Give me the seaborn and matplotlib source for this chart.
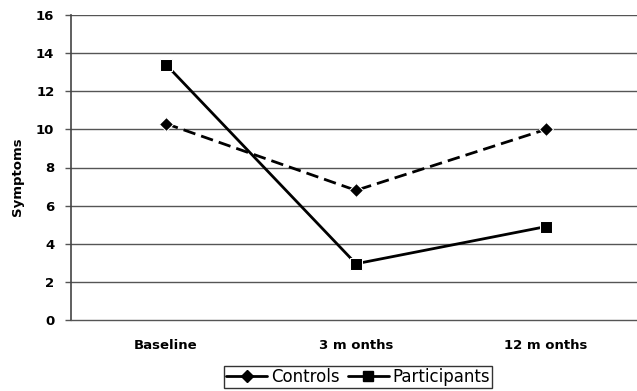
import matplotlib
matplotlib.use("Agg")
import matplotlib.pyplot as plt
import seaborn as sns
import pandas as pd
from matplotlib.lines import Line2D

categories = ["Baseline", "3 m onths", "12 m onths"]
controls = [10.3, 6.8, 10.0]
participants = [13.4, 2.95, 4.9]
yticks = [0, 2, 4, 6, 8, 10, 12, 14, 16]

sns.set_theme(style="white")
plt.rcParams['font.family'] = ['DejaVu Sans']
plt.rcParams['text.color'] = 'black'
plt.rcParams['axes.labelcolor'] = 'black'
plt.rcParams['xtick.color'] = 'black'
plt.rcParams['ytick.color'] = 'black'

rows = []
for i, c in enumerate(categories):
    rows.append({"x": i, "Symptoms": controls[i], "Group": "Controls"})
    rows.append({"x": i, "Symptoms": participants[i], "Group": "Participants"})
df = pd.DataFrame(rows)

fig = plt.figure(figsize=(6.37, 3.91), dpi=100)
ax = fig.add_axes([71/637, 1-320/391, 570/637, 305/391])

for y in yticks[1:]:
    ax.axhline(y, color="#555555", lw=1.0, zorder=0)

sns.lineplot(data=df, x="x", y="Symptoms", hue="Group", style="Group",
             palette={"Controls": "black", "Participants": "black"},
             dashes={"Controls": (4.5, 2.2), "Participants": ""},
             markers={"Controls": "D", "Participants": "s"},
             markersize=8, linewidth=2.0, ax=ax, legend=False)
ax.lines[-2].set_markersize(7)
ax.lines[-1].set_markersize(9)

ax.set_xlim(-0.5, 2.5)
ax.set_ylim(0, 16)
ax.set_yticks(yticks)
ax.set_yticklabels([str(v) for v in yticks], fontsize=9.5, fontweight="bold")
ax.set_xticks(range(len(categories)))
ax.set_xticklabels(categories, fontsize=9.5, fontweight="bold")
ax.tick_params(axis="x", length=0, pad=14)
ax.set_xticks([0.5, 1.5], minor=True)
ax.tick_params(axis="x", which="minor", length=4, direction="inout", color="#555555", width=1)
ax.tick_params(axis="y", length=4, direction="out", color="#555555", labelcolor="black", width=1, left=True, pad=8)
ax.set_xlabel("")
ax.set_ylabel("Symptoms", fontsize=9.5, fontweight="bold", labelpad=8)
ax.yaxis.set_label_coords(-0.082, 0.47)

for s in ["top", "right"]:
    ax.spines[s].set_visible(False)
ax.spines["left"].set_color("#444444")
ax.spines["left"].set_linewidth(1.2)
ax.spines["bottom"].set_color("#555555")
ax.spines["bottom"].set_linewidth(1.0)

handles = [Line2D([], [], color="black", lw=2, marker="D", markersize=6),
           Line2D([], [], color="black", lw=2, marker="s", markersize=7)]
leg = fig.legend(handles, ["Controls", "Participants"], loc="center",
                 bbox_to_anchor=(358/637, 1-377/391), ncol=2, frameon=True,
                 fancybox=False, edgecolor="black", fontsize=12,
                 handlelength=2.5, handletextpad=0.2, columnspacing=0.5,
                 borderpad=0.1, borderaxespad=0)
leg.get_frame().set_linewidth(1.0)
for t in leg.get_texts():
    t.set_color("black")

fig.savefig("out.png", dpi=100)
